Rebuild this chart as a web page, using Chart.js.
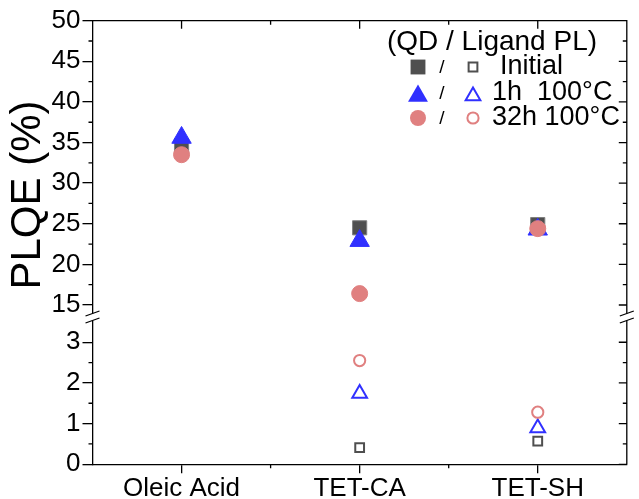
<!DOCTYPE html>
<html>
<head>
<meta charset="utf-8">
<script src="https://cdn.jsdelivr.net/npm/chart.js@4.4.1/dist/chart.umd.min.js"></script>
<style>
  html, body { margin: 0; padding: 0; background: #fff; }
</style>
</head>
<body>
<canvas id="plqe" width="639" height="499"></canvas>
<script>
const categories = ['Oleic Acid', 'TET-CA', 'TET-SH'];

// QD PL, upper part of the broken axis
const qdInitial = [34.6, 24.5, 24.9];
const qd1h = [35.6, 22.9, 24.3];
const qd32h = [33.5, 16.4, 24.4];

// ligand PL, lower part (no ligand for oleic acid)
const ligInitial = [null, 0.41, 0.57];
const lig1h = [null, 1.74, 0.89];
const lig32h = [null, 2.55, 1.28];

const upperTicks = [15, 20, 25, 30, 35, 40, 45, 50];
const upperMinor = [17.5, 22.5, 27.5, 32.5, 37.5, 42.5, 47.5];
const lowerTicks = [0, 1, 2, 3];
const lowerMinor = [0.5, 1.5, 2.5];

const legendTitle = '(QD / Ligand PL)';
const legendRows = ['Initial', '1h  100\u00b0C', '32h 100\u00b0C'];

const FONT = "'Liberation Sans', Arial, sans-serif";
const GREY = '#4f4f4f';
const BLUE = '#3030ff';
const PINK = '#e08080';

function dots(label, data, axis, style, radius, color, open) {
  return {
    label: label,
    data: data,
    yAxisID: axis,
    showLine: false,
    pointStyle: style,
    pointRadius: radius,
    pointHoverRadius: radius,
    pointBackgroundColor: open ? 'rgba(0,0,0,0)' : color,
    pointBorderColor: open ? color : (style === 'rect' ? '#808080' : color),
    pointBorderWidth: open ? 2 : 1,
    clip: false,
  };
}

// frame, minor ticks, axis break, title and legend
const decorations = {
  id: 'decorations',
  afterDraw(chart) {
    const { ctx, chartArea: a, scales } = chart;
    const up = scales.yTop;
    const lo = scales.yBot;
    const xs = scales.x;
    ctx.save();
    ctx.strokeStyle = '#000';
    ctx.lineWidth = 1.3;
    ctx.beginPath();
    ctx.moveTo(a.left, a.top);
    ctx.lineTo(a.right, a.top);
    ctx.lineTo(a.right, a.bottom);

    const yTicks = (sc, vals, len) => {
      vals.forEach((v) => {
        const py = sc.getPixelForValue(v);
        if (len < 8) {
          ctx.moveTo(a.left - len, py);
          ctx.lineTo(a.left, py);
        }
        ctx.moveTo(a.right - len, py);
        ctx.lineTo(a.right, py);
      });
    };
    yTicks(up, upperTicks, 8);
    yTicks(up, upperMinor, 4);
    yTicks(lo, lowerTicks, 8);
    yTicks(lo, lowerMinor, 4);

    const centers = categories.map((c, i) => xs.getPixelForValue(i));
    centers.forEach((px) => {
      ctx.moveTo(px, a.top);
      ctx.lineTo(px, a.top + 8);
    });
    for (let i = 0; i < centers.length - 1; i++) {
      const px = (centers[i] + centers[i + 1]) / 2;
      ctx.moveTo(px, a.top);
      ctx.lineTo(px, a.top + 4);
      ctx.moveTo(px, a.bottom);
      ctx.lineTo(px, a.bottom + 4);
    }
    ctx.stroke();

    // axis break
    const yb = up.bottom;
    [a.left, a.right].forEach((xe) => {
      ctx.fillStyle = '#fff';
      ctx.fillRect(xe - 3, yb - 3.5, 6, 7);
      ctx.beginPath();
      ctx.moveTo(xe - 7, yb - 1);
      ctx.lineTo(xe + 7, yb - 6);
      ctx.moveTo(xe - 7, yb + 6);
      ctx.lineTo(xe + 7, yb + 1);
      ctx.stroke();
    });

    // y title
    ctx.fillStyle = '#000';
    ctx.save();
    ctx.translate(28, 195);
    ctx.rotate(-Math.PI / 2);
    ctx.font = '42px ' + FONT;
    ctx.textAlign = 'center';
    ctx.textBaseline = 'middle';
    ctx.fillText('PLQE (%)', 0, 0);
    ctx.restore();

    // legend
    ctx.font = '28px ' + FONT;
    ctx.textAlign = 'center';
    ctx.textBaseline = 'middle';
    ctx.fillText(legendTitle, 492, 42);

    const styles = ['rect', 'triangle', 'circle'];
    const colors = [GREY, BLUE, PINK];
    const filledR = [10.5, 11.5, 8];
    const openR = [6.2, 8.5, 5.6];
    const rowY = [67, 93, 118];
    const draw = Chart.helpers && Chart.helpers.drawPoint;
    legendRows.forEach((txt, i) => {
      const y = rowY[i];
      const ty = styles[i] === 'triangle' ? y + 3 : y;
      if (draw) {
        ctx.fillStyle = colors[i];
        ctx.strokeStyle = colors[i];
        ctx.lineWidth = 1;
        draw(ctx, { pointStyle: styles[i], radius: filledR[i], borderWidth: 0, rotation: 0 }, 418, ty);
        ctx.fillStyle = 'rgba(0,0,0,0)';
        ctx.lineWidth = 2;
        draw(ctx, { pointStyle: styles[i], radius: openR[i], borderWidth: 2, rotation: 0 }, 473, ty);
      }
      ctx.fillStyle = '#000';
      ctx.font = '19px ' + FONT;
      ctx.textAlign = 'center';
      ctx.fillText('/', 442, y + 1);
      ctx.font = '27px ' + FONT;
      ctx.textAlign = 'left';
      ctx.fillText(txt, i === 0 ? 500 : 492, y);
    });
    ctx.restore();
  },
};

const axisLine = { display: true, color: '#000', width: 1.3 };
const tickGrid = {
  display: true,
  drawOnChartArea: false,
  drawTicks: true,
  tickLength: 9,
  color: '#000',
  lineWidth: 1.3,
};
const yGrid = Object.assign({}, tickGrid, { tickLength: 10 });
const tickFont = { family: FONT, size: 26 };

new Chart(document.getElementById('plqe'), {
  type: 'line',
  data: {
    labels: categories,
    datasets: [
      dots('QD 32 h 100 \u00b0C', qd32h, 'yTop', 'circle', 8, PINK, false),
      dots('QD 1 h 100 \u00b0C', qd1h, 'yTop', 'triangle', 11.2, BLUE, false),
      dots('QD initial', qdInitial, 'yTop', 'rect', 10, GREY, false),
      dots('Ligand 32 h 100 \u00b0C', lig32h, 'yBot', 'circle', 5.6, PINK, true),
      dots('Ligand 1 h 100 \u00b0C', lig1h, 'yBot', 'triangle', 8.5, BLUE, true),
      dots('Ligand initial', ligInitial, 'yBot', 'rect', 6.2, GREY, true),
    ],
  },
  options: {
    responsive: false,
    animation: false,
    events: [],
    layout: { padding: { top: 20.7, right: 8, left: 0, bottom: 0 } },
    plugins: { legend: { display: false }, tooltip: { enabled: false } },
    scales: {
      x: {
        type: 'category',
        offset: true,
        grid: tickGrid,
        border: axisLine,
        ticks: { font: tickFont, color: '#000', padding: 0, maxRotation: 0, autoSkip: false },
        afterFit(s) { s.height = 34.7; },
      },
      // left boxes are placed in reverse order, so the lower part comes first
      yBot: {
        type: 'linear',
        position: 'left',
        stack: 'plqe',
        stackWeight: 147.3,
        min: 0,
        max: 3.62,
        afterBuildTicks(s) { s.ticks = lowerTicks.map((v) => ({ value: v })); },
        grid: yGrid,
        border: axisLine,
        ticks: { font: tickFont, color: '#000', padding: 2, autoSkip: false },
        afterFit(s) { s.width = 92.5; },
      },
      yTop: {
        type: 'linear',
        position: 'left',
        stack: 'plqe',
        stackWeight: 296.3,
        min: 13.52,
        max: 50,
        afterBuildTicks(s) { s.ticks = upperTicks.map((v) => ({ value: v })); },
        grid: yGrid,
        border: axisLine,
        ticks: { font: tickFont, color: '#000', padding: 2, autoSkip: false },
        afterFit(s) { s.width = 92.5; },
      },
    },
  },
  plugins: [decorations],
});
</script>
</body>
</html>
